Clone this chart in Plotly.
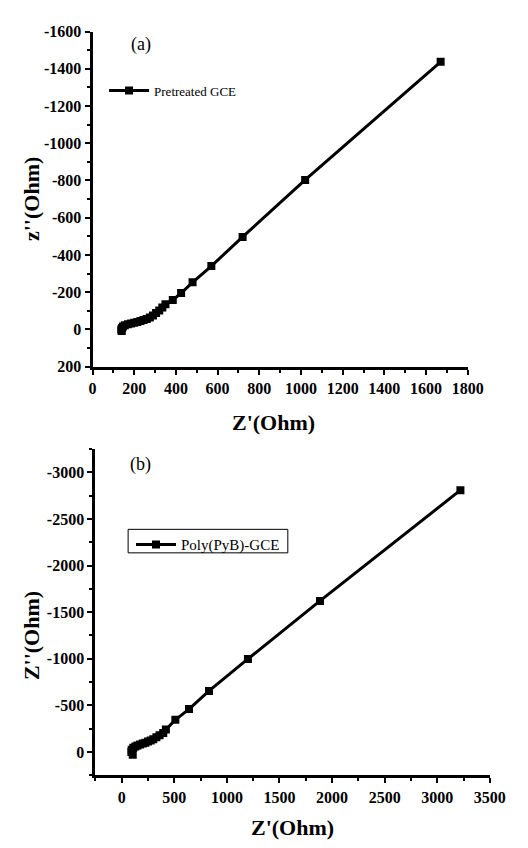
import plotly.graph_objects as go

# Panel (a): Pretreated GCE  (Z' , Z'' in Ohm)
a_zre = [140, 138, 142, 146, 155, 170, 185, 200, 215, 230, 245, 260, 275, 290, 305, 320, 335, 350,
         385, 425, 480, 570, 720, 1020, 1670]
a_zim = [8, 0, -8, -16, -22, -28, -32, -36, -40, -45, -50, -56, -64, -75, -88, -102, -118, -135,
         -158, -195, -253, -340, -497, -803, -1437]

# Panel (b): Poly(PyB)-GCE
b_zre = [105, 92, 95, 110, 130, 150, 175, 200, 225, 250, 275, 300, 330, 360, 395, 420,
         510, 640, 830, 1200, 1885, 3220]
b_zim = [30, 0, -25, -45, -60, -70, -80, -90, -100, -112, -124, -138, -158, -180, -205, -240,
         -345, -460, -655, -998, -1620, -2808]

a_yticks = [-1600, -1400, -1200, -1000, -800, -600, -400, -200, 0, 200]
a_ytext = ["-1600", "-1400", "-1200", "-1000", "-800", "-600", "-400", "-200", "0", "200"]
a_xticks = [0, 200, 400, 600, 800, 1000, 1200, 1400, 1600, 1800]
a_xtext = ["0", "200", "400", "600", "800", "1000", "1200", "1400", "1600", "1800"]
b_yticks = [-3000, -2500, -2000, -1500, -1000, -500, 0]
b_ytext = ["-3000", "-2500", "-2000", "-1500", "-1000", "-500", "0"]
b_xticks = [0, 500, 1000, 1500, 2000, 2500, 3000, 3500]
b_xtext = ["0", "500", "1000", "1500", "2000", "2500", "3000", "3500"]

FONT = "Liberation Serif"
W, H = 528, 848


def bold(lst):
    return ["<b>" + s + "</b>" for s in lst]


fig = go.Figure()
fig.add_trace(go.Scatter(x=a_zre, y=a_zim, mode="lines+markers", name="Pretreated GCE",
                         line=dict(color="black", width=3),
                         marker=dict(symbol="square", size=8, color="black"),
                         xaxis="x", yaxis="y", legend="legend"))
fig.add_trace(go.Scatter(x=b_zre, y=b_zim, mode="lines+markers", name="Poly(PyB)-GCE",
                         line=dict(color="black", width=3),
                         marker=dict(symbol="square", size=8, color="black"),
                         xaxis="x2", yaxis="y2", legend="legend2"))

tickfont = dict(family=FONT, size=16, color="black", weight="bold")
minor_a = dict(dtick=100, ticks="outside", ticklen=3, tickwidth=2, tickcolor="black")
minor_b = dict(dtick=250, tick0=0, ticks="outside", ticklen=3, tickwidth=2, tickcolor="black")
common = dict(showline=True, linewidth=3, linecolor="black", showgrid=False, zeroline=False,
              ticks="outside", ticklen=5, tickwidth=2, tickcolor="black", tickfont=tickfont,
              mirror=False, tickmode="array")

fig.update_layout(
    width=W, height=H, margin=dict(l=0, r=0, t=0, b=0),
    paper_bgcolor="white", plot_bgcolor="white",
    xaxis=dict(domain=[92 / W, 482 / W], range=[0, 1800], anchor="y",
               tickvals=a_xticks, ticktext=bold(a_xtext), minor=minor_a, **common),
    yaxis=dict(domain=[1 - 366 / H, 1 - 24 / H], range=[200, -1600], anchor="x",
               tickvals=a_yticks, ticktext=bold(a_ytext), minor=minor_a, **common),
    xaxis2=dict(domain=[95 / W, 505 / W], range=[-250, 3500], anchor="y2",
                tickvals=b_xticks, ticktext=bold(b_xtext), minor=minor_b, **common),
    yaxis2=dict(domain=[1 - 783 / H, 1 - 450 / H], range=[250, -3250], anchor="x2",
                tickvals=b_yticks, ticktext=bold(b_ytext), minor=minor_b, **common),
    legend=dict(x=104 / W, y=1 - 69 / H, xanchor="left", yanchor="top",
                bgcolor="rgba(0,0,0,0)", borderwidth=0,
                font=dict(family=FONT, size=13, color="black"), itemwidth=40),
    legend2=dict(x=132 / W, y=1 - 531 / H, xanchor="left", yanchor="top",
                 bgcolor="rgba(0,0,0,0)", borderwidth=0,
                 font=dict(family=FONT, size=15, color="black"), itemwidth=40),
    showlegend=True,
)

# legend frame for panel (b)
fig.add_shape(type="rect", xref="paper", yref="paper",
              x0=129 / W, x1=295 / W, y0=1 - 556 / H, y1=1 - 532 / H,
              line=dict(color="black", width=1), fillcolor="rgba(0,0,0,0)", layer="below")

titlefont = dict(family=FONT, size=22, color="black")
ann = dict(xref="paper", yref="paper", showarrow=False, xanchor="center", yanchor="middle")
fig.add_annotation(text="<b>Z'(Ohm)</b>", x=280 / W, y=1 - 423 / H, font=titlefont, **ann)
fig.add_annotation(text="<b>Z'(Ohm)</b>", x=300 / W, y=1 - 836 / H, font=titlefont, **ann)
fig.add_annotation(text="<b>z''(Ohm)</b>", x=28 / W, y=1 - 195 / H, font=titlefont,
                   textangle=-90, **ann)
fig.add_annotation(text="<b>Z''(Ohm)</b>", x=28 / W, y=1 - 640 / H, font=titlefont,
                   textangle=-90, **ann)
fig.add_annotation(text="(a)", x=142 / W, y=1 - 37 / H,
                   font=dict(family=FONT, size=18, color="black"), **ann)
fig.add_annotation(text="(b)", x=142 / W, y=1 - 466 / H,
                   font=dict(family=FONT, size=18, color="black"), **ann)

fig.write_html("out.html")
